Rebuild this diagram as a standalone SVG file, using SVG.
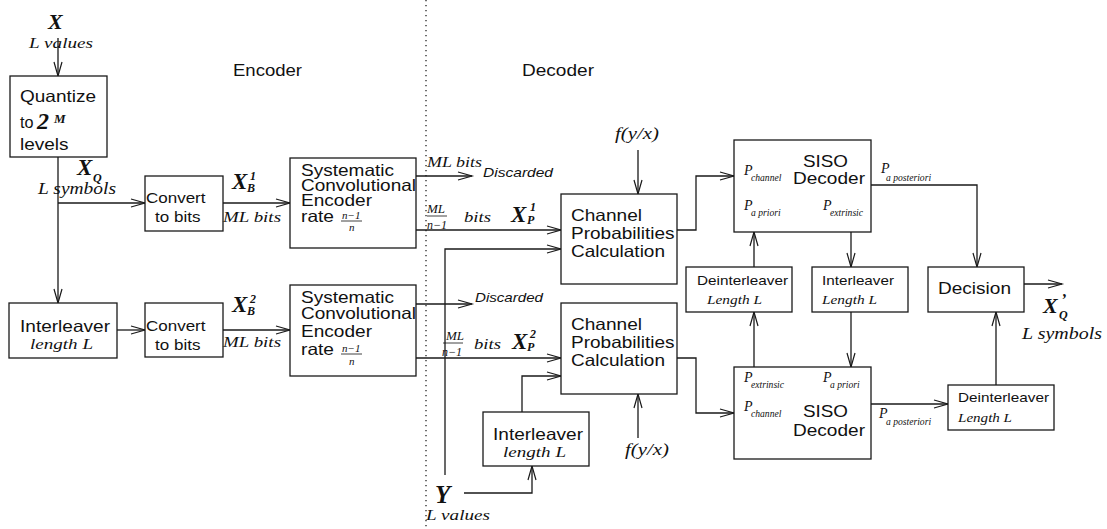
<svg xmlns="http://www.w3.org/2000/svg" width="1107" height="529" viewBox="0 0 1107 529">
<defs>
<style>
.b{fill:#fff;stroke:#1a1a1a;stroke-width:1.3}
.c{fill:none;stroke:#1a1a1a;stroke-width:1.3}
.s{font-family:"Liberation Sans",Arial,sans-serif;fill:#111}
.i{font-family:"Liberation Serif","Times New Roman",serif;font-style:italic;fill:#111}
.bi{font-family:"Liberation Serif","Times New Roman",serif;font-style:italic;font-weight:bold;fill:#111}
.si{font-family:"Liberation Sans",Arial,sans-serif;font-style:italic;fill:#111}
text{white-space:pre}
</style>
<marker id="ah" markerUnits="userSpaceOnUse" markerWidth="16" markerHeight="10" refX="14" refY="4" orient="auto" overflow="visible"><path d="M0,0 L14,4 L0,8" fill="none" stroke="#1a1a1a" stroke-width="1.2"/></marker>
</defs>
<rect x="0" y="0" width="1107" height="529" fill="#fff"/>
<line x1="426" y1="0" x2="426" y2="529" stroke="#222" stroke-width="1.3" stroke-dasharray="1.3,3.7"/>
<text class="s" x="233" y="76" font-size="16" textLength="69" lengthAdjust="spacingAndGlyphs">Encoder</text>
<text class="s" x="522" y="76" font-size="16.5" textLength="72" lengthAdjust="spacingAndGlyphs">Decoder</text>

<g id="connectors">
<path class="c" d="M58,38 V76" marker-end="url(#ah)"/>
<path class="c" d="M58,157 V303" marker-end="url(#ah)"/>
<path class="c" d="M58,203 H145" marker-end="url(#ah)"/>
<path class="c" d="M117,330 H145" marker-end="url(#ah)"/>
<path class="c" d="M223,203 H290" marker-end="url(#ah)"/>
<path class="c" d="M223,330 H290" marker-end="url(#ah)"/>
<path class="c" d="M416,176 H472" marker-end="url(#ah)"/>
<path class="c" d="M416,230 H561" marker-end="url(#ah)"/>
<path class="c" d="M416,304 H472" marker-end="url(#ah)"/>
<path class="c" d="M416,358 H561" marker-end="url(#ah)"/>
<path class="c" d="M445,475 V249 H561" marker-end="url(#ah)"/>
<path class="c" d="M464,493 H532 V466" marker-end="url(#ah)"/>
<path class="c" d="M522,412 V376 H561" marker-end="url(#ah)"/>
<path class="c" d="M638,150 V194" marker-end="url(#ah)"/>
<path class="c" d="M638,438 V394" marker-end="url(#ah)"/>
<path class="c" d="M677,230 H696 V176 H734" marker-end="url(#ah)"/>
<path class="c" d="M677,358 H696 V413 H734" marker-end="url(#ah)"/>
<path class="c" d="M754,267 V232" marker-end="url(#ah)"/>
<path class="c" d="M754,367 V312" marker-end="url(#ah)"/>
<path class="c" d="M851,232 V267" marker-end="url(#ah)"/>
<path class="c" d="M851,312 V367" marker-end="url(#ah)"/>
<path class="c" d="M871,185 H977 V267" marker-end="url(#ah)"/>
<path class="c" d="M871,404 H948" marker-end="url(#ah)"/>
<path class="c" d="M996,385 V312" marker-end="url(#ah)"/>
<path class="c" d="M1024,284 H1062" marker-end="url(#ah)"/>
</g>

<g id="input-x">
<text class="bi" x="48" y="29" font-size="22">X</text>
<text class="i" x="29" y="48" font-size="15.5" textLength="64" lengthAdjust="spacingAndGlyphs">L values</text>
</g>

<g id="quantize">
<rect class="b" x="10" y="76" width="97" height="81"/>
<text class="s" x="20" y="102" font-size="16.5" textLength="76" lengthAdjust="spacingAndGlyphs">Quantize</text>
<text class="s" x="20" y="128" font-size="16.5" textLength="13.5" lengthAdjust="spacingAndGlyphs">to</text>
<text class="bi" x="37" y="129" font-size="24">2</text>
<text class="bi" x="54" y="123" font-size="13">M</text>
<text class="s" x="20" y="150" font-size="16.5" textLength="48.6" lengthAdjust="spacingAndGlyphs">levels</text>
</g>

<g id="xq-label">
<text class="bi" x="77" y="175" font-size="23">X</text>
<text class="bi" x="93" y="182" font-size="12">Q</text>
<text class="i" x="38" y="194" font-size="17.5" textLength="78" lengthAdjust="spacingAndGlyphs">L symbols</text>
</g>

<g id="interleaver-left">
<rect class="b" x="9" y="303" width="108" height="55"/>
<text class="s" x="20" y="332" font-size="16.5" textLength="90" lengthAdjust="spacingAndGlyphs">Interleaver</text>
<text class="i" x="30" y="349" font-size="15.5" textLength="63" lengthAdjust="spacingAndGlyphs">length L</text>
</g>

<g id="convert1">
<rect class="b" x="145" y="176" width="78" height="55"/>
<text class="s" x="146" y="203" font-size="14.8" textLength="59.5" lengthAdjust="spacingAndGlyphs">Convert</text>
<text class="s" x="155" y="222" font-size="14.8" textLength="45.4" lengthAdjust="spacingAndGlyphs">to bits</text>
</g>

<g id="convert2">
<rect class="b" x="145" y="303" width="78" height="54"/>
<text class="s" x="146" y="331" font-size="14.8" textLength="59.5" lengthAdjust="spacingAndGlyphs">Convert</text>
<text class="s" x="155" y="350" font-size="14.8" textLength="45.4" lengthAdjust="spacingAndGlyphs">to bits</text>
</g>

<g id="xb-labels">
<text class="bi" x="232" y="189" font-size="23">X</text>
<text class="bi" x="250" y="180" font-size="12">1</text>
<text class="bi" x="247" y="192" font-size="12">B</text>
<text class="i" x="223" y="222" font-size="15.5" textLength="58" lengthAdjust="spacingAndGlyphs">ML bits</text>
<text class="bi" x="232" y="312" font-size="23">X</text>
<text class="bi" x="250" y="303" font-size="12">2</text>
<text class="bi" x="247" y="315" font-size="12">B</text>
<text class="i" x="223" y="347" font-size="15.5" textLength="58" lengthAdjust="spacingAndGlyphs">ML bits</text>
</g>

<g id="encoder1">
<rect class="b" x="290" y="158" width="126" height="90"/>
<text class="s" x="301" y="176" font-size="16.5" textLength="93" lengthAdjust="spacingAndGlyphs">Systematic</text>
<text class="s" x="301" y="191" font-size="16.5" textLength="115" lengthAdjust="spacingAndGlyphs">Convolutional</text>
<text class="s" x="301" y="206" font-size="16.5" textLength="71" lengthAdjust="spacingAndGlyphs">Encoder</text>
<text class="s" x="301" y="222" font-size="16.5" textLength="33" lengthAdjust="spacingAndGlyphs">rate</text>
<text class="i" x="342" y="219" font-size="11">n−1</text>
<line x1="341" y1="221" x2="362" y2="221" stroke="#111" stroke-width="0.8"/>
<text class="i" x="349" y="231" font-size="11">n</text>
</g>

<g id="encoder2">
<rect class="b" x="290" y="285" width="126" height="91"/>
<text class="s" x="301" y="303" font-size="16.5" textLength="93" lengthAdjust="spacingAndGlyphs">Systematic</text>
<text class="s" x="301" y="319" font-size="16.5" textLength="115" lengthAdjust="spacingAndGlyphs">Convolutional</text>
<text class="s" x="301" y="337" font-size="16.5" textLength="71" lengthAdjust="spacingAndGlyphs">Encoder</text>
<text class="s" x="301" y="355" font-size="16.5" textLength="33" lengthAdjust="spacingAndGlyphs">rate</text>
<text class="i" x="342" y="352" font-size="11">n−1</text>
<line x1="341" y1="354" x2="362" y2="354" stroke="#111" stroke-width="0.8"/>
<text class="i" x="349" y="365" font-size="11">n</text>
</g>

<g id="enc-out-labels">
<text class="i" x="427" y="167" font-size="15" textLength="55" lengthAdjust="spacingAndGlyphs">ML bits</text>
<text class="si" x="483" y="177" font-size="13.5" textLength="70" lengthAdjust="spacingAndGlyphs">Discarded</text>
<text class="i" x="427" y="213" font-size="13">ML</text>
<line x1="427" y1="216" x2="447" y2="216" stroke="#111" stroke-width="0.8"/>
<text class="i" x="427" y="229" font-size="12">n−1</text>
<text class="i" x="464" y="222" font-size="15.5" textLength="27" lengthAdjust="spacingAndGlyphs">bits</text>
<text class="bi" x="511" y="222" font-size="23">X</text>
<text class="bi" x="530" y="211" font-size="12">1</text>
<text class="bi" x="527" y="224" font-size="12">P</text>
<text class="si" x="475" y="302" font-size="13.5" textLength="68" lengthAdjust="spacingAndGlyphs">Discarded</text>
<text class="i" x="446" y="340" font-size="13">ML</text>
<line x1="443" y1="343" x2="463" y2="343" stroke="#111" stroke-width="0.8"/>
<text class="i" x="442" y="356" font-size="12">n−1</text>
<text class="i" x="474" y="349" font-size="15.5" textLength="27" lengthAdjust="spacingAndGlyphs">bits</text>
<text class="bi" x="512" y="349" font-size="23">X</text>
<text class="bi" x="530" y="338" font-size="12">2</text>
<text class="bi" x="527" y="351" font-size="12">P</text>
</g>

<g id="input-y">
<text class="bi" x="435" y="503" font-size="25">Y</text>
<text class="i" x="426" y="520" font-size="15.5" textLength="64" lengthAdjust="spacingAndGlyphs">L values</text>
</g>

<g id="interleaver-bottom">
<rect class="b" x="483" y="412" width="106" height="54"/>
<text class="s" x="493" y="440" font-size="16.5" textLength="90" lengthAdjust="spacingAndGlyphs">Interleaver</text>
<text class="i" x="503" y="457" font-size="15.5" textLength="63" lengthAdjust="spacingAndGlyphs">length L</text>
</g>

<g id="fyx-top"><text class="i" x="615" y="139" font-size="16.5" textLength="44" lengthAdjust="spacingAndGlyphs">f(y/x)</text></g>
<g id="fyx-bottom"><text class="i" x="625" y="455" font-size="16.5" textLength="44" lengthAdjust="spacingAndGlyphs">f(y/x)</text></g>

<g id="channel1">
<rect class="b" x="561" y="194" width="116" height="90"/>
<text class="s" x="571" y="221" font-size="16.5" textLength="71" lengthAdjust="spacingAndGlyphs">Channel</text>
<text class="s" x="571" y="239" font-size="16.5" textLength="103.5" lengthAdjust="spacingAndGlyphs">Probabilities</text>
<text class="s" x="571" y="257" font-size="16.5" textLength="94" lengthAdjust="spacingAndGlyphs">Calculation</text>
</g>

<g id="channel2">
<rect class="b" x="561" y="303" width="116" height="91"/>
<text class="s" x="571" y="330" font-size="16.5" textLength="71" lengthAdjust="spacingAndGlyphs">Channel</text>
<text class="s" x="571" y="348" font-size="16.5" textLength="103.5" lengthAdjust="spacingAndGlyphs">Probabilities</text>
<text class="s" x="571" y="366" font-size="16.5" textLength="94" lengthAdjust="spacingAndGlyphs">Calculation</text>
</g>

<g id="siso1">
<rect class="b" x="734" y="140" width="137" height="92"/>
<text class="s" x="803" y="167" font-size="16.5" textLength="45" lengthAdjust="spacingAndGlyphs">SISO</text>
<text class="s" x="793" y="184" font-size="16.5" textLength="72" lengthAdjust="spacingAndGlyphs">Decoder</text>
<text class="i" x="744" y="175" font-size="14">P</text>
<text class="i" x="751" y="181" font-size="9.6">channel</text>
<text class="i" x="744" y="210" font-size="14">P</text>
<text class="i" x="751" y="216" font-size="9.6">a priori</text>
<text class="i" x="823" y="210" font-size="14">P</text>
<text class="i" x="830" y="216" font-size="9.6">extrinsic</text>
</g>

<g id="deinterleaver-mid">
<rect class="b" x="686" y="267" width="106" height="45"/>
<text class="s" x="697" y="285" font-size="13.3" textLength="91" lengthAdjust="spacingAndGlyphs">Deinterleaver</text>
<text class="i" x="707" y="304" font-size="13" textLength="55" lengthAdjust="spacingAndGlyphs">Length L</text>
</g>

<g id="interleaver-mid">
<rect class="b" x="812" y="267" width="96" height="45"/>
<text class="s" x="822" y="285" font-size="13.3" textLength="72" lengthAdjust="spacingAndGlyphs">Interleaver</text>
<text class="i" x="822" y="304" font-size="13" textLength="55" lengthAdjust="spacingAndGlyphs">Length L</text>
</g>

<g id="siso2">
<rect class="b" x="734" y="367" width="137" height="92"/>
<text class="s" x="803" y="417" font-size="16.5" textLength="45" lengthAdjust="spacingAndGlyphs">SISO</text>
<text class="s" x="793" y="436" font-size="16.5" textLength="72" lengthAdjust="spacingAndGlyphs">Decoder</text>
<text class="i" x="744" y="382" font-size="14">P</text>
<text class="i" x="751" y="388" font-size="9.6">extrinsic</text>
<text class="i" x="823" y="382" font-size="14">P</text>
<text class="i" x="830" y="388" font-size="9.6">a priori</text>
<text class="i" x="744" y="411" font-size="14">P</text>
<text class="i" x="751" y="417" font-size="9.6">channel</text>
</g>

<g id="posteriori-labels">
<text class="i" x="881" y="173" font-size="14">P</text>
<text class="i" x="886" y="181" font-size="9.6">a posteriori</text>
<text class="i" x="879" y="418" font-size="14">P</text>
<text class="i" x="886" y="425" font-size="9.6">a posteriori</text>
</g>

<g id="decision">
<rect class="b" x="928" y="267" width="96" height="45"/>
<text class="s" x="938" y="294" font-size="16.5" textLength="73" lengthAdjust="spacingAndGlyphs">Decision</text>
</g>

<g id="deinterleaver-right">
<rect class="b" x="948" y="385" width="106" height="45"/>
<text class="s" x="958" y="402" font-size="13.3" textLength="91" lengthAdjust="spacingAndGlyphs">Deinterleaver</text>
<text class="i" x="958" y="422" font-size="13" textLength="54" lengthAdjust="spacingAndGlyphs">Length L</text>
</g>

<g id="output-xq">
<text class="bi" x="1043" y="313" font-size="22">X</text>
<text class="bi" x="1061" y="305" font-size="16">’</text>
<text class="bi" x="1059" y="319" font-size="12">Q</text>
<text class="i" x="1022" y="339" font-size="17.5" textLength="80" lengthAdjust="spacingAndGlyphs">L symbols</text>
</g>
</svg>
